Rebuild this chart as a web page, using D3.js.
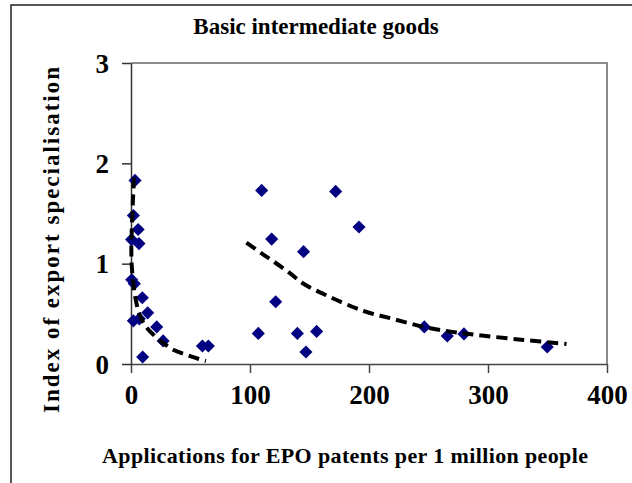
<!DOCTYPE html>
<html>
<head>
<meta charset="utf-8">
<script src="https://cdn.jsdelivr.net/npm/d3@7"></script>
<style>
  html, body { margin: 0; padding: 0; background: #fff; }
  svg { display: block; }
  text { font-family: "Liberation Serif", "Times New Roman", serif; font-weight: bold; fill: #000; }
</style>
</head>
<body>
<div id="chart"></div>
<script>
'use strict';

// countries with few patent applications (left group)
var lowPatents = [3.4, 2, 6, 0.5, 6.7, 0.6, 2.8, 9.5, 2, 7, 14, 21.6, 27, 9.8, 60, 65];
var lowSpecial = [1.83, 1.48, 1.34, 1.24, 1.20, 0.84, 0.80, 0.66, 0.43, 0.45, 0.51, 0.37, 0.23, 0.07, 0.18, 0.18];

// countries with many patent applications (right group)
var highPatents = [109.8, 172, 191.6, 118.2, 145, 121.6, 107, 139.8, 156, 147, 246.5, 265.8, 279.8, 349.8];
var highSpecial = [1.73, 1.72, 1.365, 1.245, 1.12, 0.62, 0.305, 0.305, 0.325, 0.12, 0.37, 0.28, 0.30, 0.17];

// trend lines
var lowTrendX = [2.5, 1.5, 0.6, 0.3, 0.8, 2, 4, 7, 12, 19, 27, 36, 47, 57, 63];
var lowTrendY = [1.86, 1.60, 1.32, 1.10, 0.95, 0.80, 0.64, 0.50, 0.38, 0.29, 0.21, 0.14, 0.09, 0.05, 0.03];
var highTrendX = [97, 110, 120, 133, 145, 165, 195, 220, 246, 270, 290, 330, 366];
var highTrendY = [1.21, 1.10, 1.02, 0.91, 0.80, 0.68, 0.53, 0.45, 0.37, 0.32, 0.29, 0.24, 0.20];

var xTicks = [0, 100, 200, 300, 400];
var yTicks = [0, 1, 2, 3];

var chartTitle = "Basic intermediate goods";
var xTitle = "Applications for EPO patents per 1 million people";
var yTitle = "Index of export specialisation";

(function() {
    var width = 632, height = 483;

    var svg = d3.select("#chart").append("svg")
        .attr("width", width)
        .attr("height", height);

    // outer chart border (right and bottom fall outside the picture)
    svg.append("rect")
        .attr("x", 11).attr("y", 5)
        .attr("width", 700).attr("height", 600)
        .attr("fill", "#fff")
        .attr("stroke", "#222")
        .attr("stroke-width", 1.5);

    var x = d3.scaleLinear().domain([0, 400]).range([131, 607]);
    var y = d3.scaleLinear().domain([0, 3]).range([364, 63]);

    // plot area frame (top and right in grey)
    svg.append("path")
        .attr("d", "M" + x(0) + "," + y(3) + "H" + x(400) + "V" + y(0))
        .attr("fill", "none")
        .attr("stroke", "#8c8c8c")
        .attr("stroke-width", 2);

    var xAxis = svg.append("g")
        .attr("transform", "translate(0," + y(0) + ")")
        .call(d3.axisBottom(x).tickValues(xTicks).tickSize(9).tickSizeOuter(0).tickPadding(12)
            .tickFormat(d3.format("d")));

    var yAxis = svg.append("g")
        .attr("transform", "translate(" + x(0) + ",0)")
        .call(d3.axisLeft(y).tickValues(yTicks).tickSize(9).tickSizeOuter(0).tickPadding(13)
            .tickFormat(d3.format("d")));

    xAxis.selectAll("path, line").attr("stroke", "#444").attr("stroke-width", 1.5);
    yAxis.selectAll("path, line").attr("stroke", "#333").attr("stroke-width", 1.5);
    xAxis.selectAll("text").style("font-size", "27px").attr("dy", "0.71em");
    yAxis.selectAll("text").style("font-size", "27px").attr("dy", "0.34em");

    // markers: navy diamonds
    var diamond = d3.symbol().type(d3.symbolSquare).size(86);

    function drawPoints(xs, ys) {
        svg.append("g").selectAll("path")
            .data(xs.map(function(v, i) { return [v, ys[i]]; }))
            .enter().append("path")
            .attr("d", diamond)
            .attr("transform", function(d) {
                return "translate(" + x(d[0]) + "," + y(d[1]) + ") rotate(45)";
            })
            .attr("fill", "#000080");
    }
    drawPoints(lowPatents, lowSpecial);
    drawPoints(highPatents, highSpecial);

    var line = d3.line()
        .x(function(d) { return x(d[0]); })
        .y(function(d) { return y(d[1]); })
        .curve(d3.curveCatmullRom);

    function drawTrend(xs, ys) {
        svg.append("path")
            .datum(xs.map(function(v, i) { return [v, ys[i]]; }))
            .attr("d", line)
            .attr("fill", "none")
            .attr("stroke", "#000")
            .attr("stroke-width", 4)
            .attr("stroke-dasharray", "11,6");
    }
    drawTrend(lowTrendX, lowTrendY);
    drawTrend(highTrendX, highTrendY);

    // titles
    svg.append("text")
        .attr("x", 316).attr("y", 34)
        .attr("text-anchor", "middle")
        .style("font-size", "23px")
        .text(chartTitle);

    svg.append("text")
        .attr("x", 102).attr("y", 463)
        .attr("textLength", 486)
        .attr("lengthAdjust", "spacing")
        .style("font-size", "22px")
        .text(xTitle);

    svg.append("text")
        .attr("transform", "translate(59,413) rotate(-90)")
        .attr("textLength", 346)
        .attr("lengthAdjust", "spacing")
        .style("font-size", "23px")
        .text(yTitle);
})();
</script>
</body>
</html>
